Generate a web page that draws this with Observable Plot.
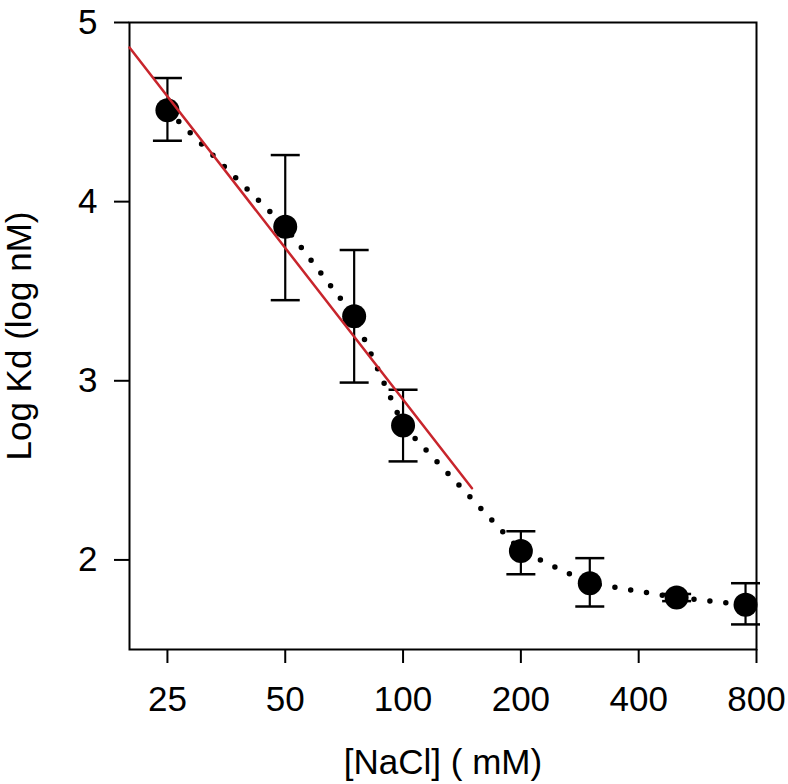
<!DOCTYPE html>
<html>
<head>
<meta charset="utf-8">
<script src="https://cdn.jsdelivr.net/npm/d3@7"></script>
<script src="https://cdn.jsdelivr.net/npm/@observablehq/plot@0.6"></script>
<style>
  html, body { margin: 0; padding: 0; background: #fff; }
</style>
</head>
<body>
<div id="chart"></div>
<script>
// [NaCl] (mM)
const conc = [25, 50, 75, 100, 200, 300, 500, 750];
// Log Kd (log nM)
const logKd = [4.51, 3.86, 3.36, 2.75, 2.05, 1.87, 1.79, 1.75];
const errLow = [4.34, 3.45, 2.99, 2.55, 1.92, 1.74, 1.77, 1.64];
const errHigh = [4.69, 4.26, 3.73, 2.95, 2.16, 2.01, 1.81, 1.87];
// linear fit (red line)
const fitConc = [20, 150];
const fitLogKd = [4.86, 2.40];
// ticks
const xTicks = [25, 50, 100, 200, 400, 800];
const yTicks = [2, 3, 4, 5];

const data = conc.map((c, i) => ({c, v: logKd[i], lo: errLow[i], hi: errHigh[i]}));
const fit = fitConc.map((c, i) => ({c, v: fitLogKd[i]}));

const capSymbol = {
  draw(context, size) {
    const w = Math.sqrt(size / Math.PI);
    context.moveTo(-w, 0);
    context.lineTo(w, 0);
  }
};

const font = "'Liberation Sans', Arial, Helvetica, sans-serif";

const chart = Plot.plot({
  width: 788,
  height: 784,
  marginLeft: 129,
  marginRight: 32,
  marginTop: 22,
  marginBottom: 135,
  style: {fontFamily: font, fontSize: "35px", background: "#fff", color: "#000", overflow: "visible"},
  x: {type: "log", base: 2, domain: [20, 800]},
  y: {domain: [1.5, 5]},
  marks: [
    Plot.frame({stroke: "#000", strokeWidth: 2}),
    Plot.axisX({
      ticks: xTicks, tickFormat: d => String(d), tickSize: 14, tickPadding: 23,
      strokeWidth: 2, fontSize: 35, label: "[NaCl] ( mM)", labelAnchor: "center",
      labelArrow: "none", labelOffset: 124
    }),
    Plot.axisY({
      ticks: yTicks, tickFormat: d => String(d), tickSize: 15, tickPadding: 17,
      strokeWidth: 2, fontSize: 35, label: "Log Kd (log nM)", labelAnchor: "center",
      labelArrow: "none", labelOffset: 123
    }),
    Plot.line(data, {x: "c", y: "v", stroke: "#000", strokeWidth: 5.5, strokeDasharray: "0 16", strokeLinecap: "round"}),
    Plot.ruleX(data, {x: "c", y1: "lo", y2: "hi", stroke: "#000", strokeWidth: 2.2}),
    Plot.dot(data, {x: "c", y: "hi", symbol: capSymbol, r: 14.5, fill: "none", stroke: "#000", strokeWidth: 2.5}),
    Plot.dot(data, {x: "c", y: "lo", symbol: capSymbol, r: 14.5, fill: "none", stroke: "#000", strokeWidth: 2.5}),
    Plot.dot(data, {x: "c", y: "v", r: 12, fill: "#000", stroke: "none"}),
    Plot.line(fit, {x: "c", y: "v", stroke: "#c8252c", strokeWidth: 2.5})
  ]
});
document.getElementById("chart").appendChild(chart);
</script>
</body>
</html>
